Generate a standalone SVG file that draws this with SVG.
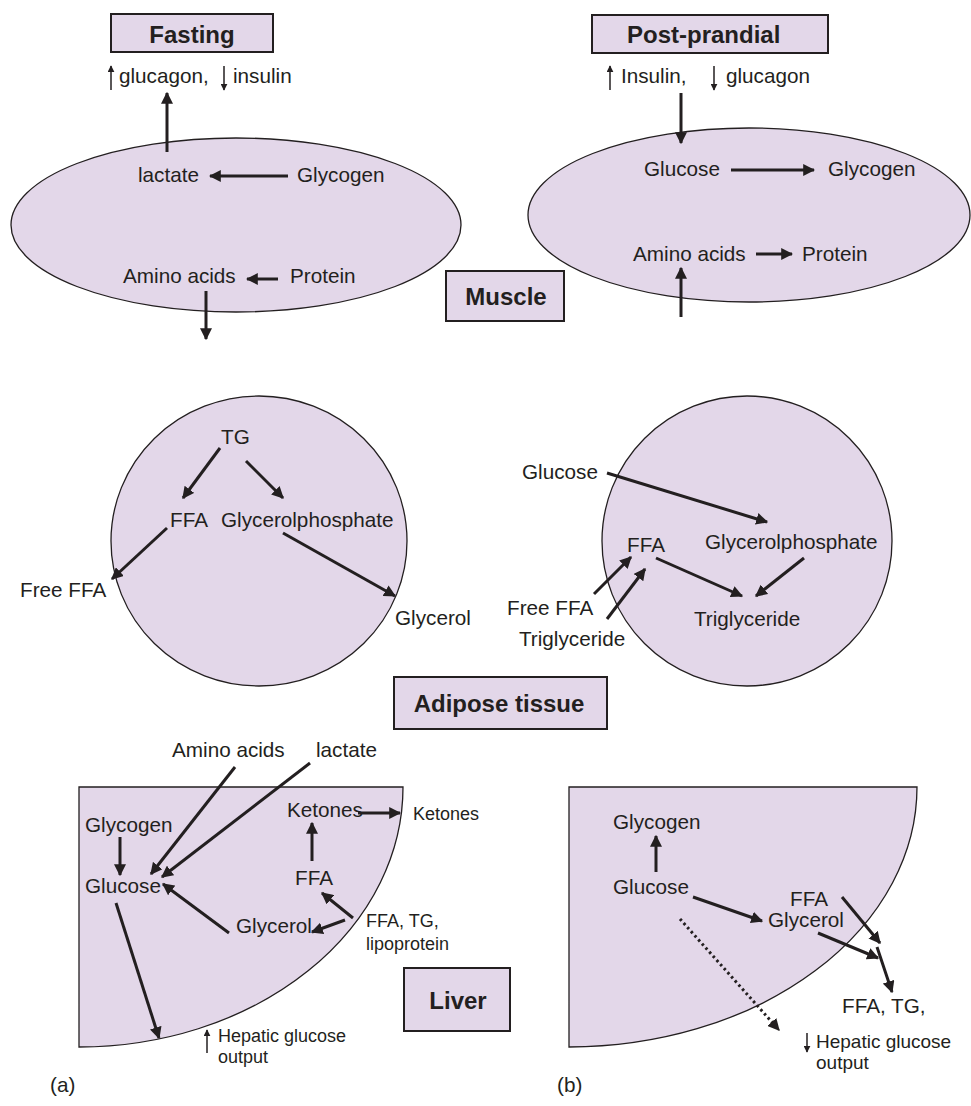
<svg xmlns="http://www.w3.org/2000/svg" width="971" height="1106" viewBox="0 0 971 1106">
<style>
.shape{fill:#e3d7e9;stroke:#231f20;stroke-width:1.3}
.box{fill:#e3d7e9;stroke:#231f20;stroke-width:2}
text{font-family:"Liberation Sans",Arial,sans-serif;fill:#231f20}
.t{font-size:20.7px}
.s{font-size:18px}
.s2{font-size:19px}
.b{font-size:24px;font-weight:bold}
.a{stroke:#231f20;stroke-width:3;fill:none;marker-end:url(#ah)}
.m{stroke:#231f20;stroke-width:1.5;fill:none;marker-end:url(#sh)}
.d{stroke:#231f20;stroke-width:3;fill:none;stroke-dasharray:2.5 3;marker-end:url(#ah)}
</style>
<defs>
<marker id="ah" viewBox="0 0 10 10" refX="9" refY="5" markerWidth="12" markerHeight="12" markerUnits="userSpaceOnUse" orient="auto"><path d="M0,0 L10,5 L0,10 z" fill="#231f20"/></marker>
<marker id="sh" viewBox="0 0 10 10" refX="9" refY="5" markerWidth="7" markerHeight="7" markerUnits="userSpaceOnUse" orient="auto"><path d="M0,0 L10,5 L0,10 z" fill="#231f20"/></marker>
</defs>

<g id="fasting-label">
<rect class="box" x="111" y="14" width="162" height="38"/>
<text class="b" x="192" y="43" text-anchor="middle">Fasting</text>
</g>
<g id="postprandial-label">
<rect class="box" x="592" y="15" width="236" height="38"/>
<text class="b" x="627" y="43">Post-prandial</text>
</g>
<g id="muscle-label">
<rect class="box" x="446" y="271" width="118" height="50"/>
<text class="b" x="506" y="305" text-anchor="middle">Muscle</text>
</g>
<g id="adipose-label">
<rect class="box" x="394" y="677" width="213" height="52"/>
<text class="b" x="499" y="712" text-anchor="middle">Adipose tissue</text>
</g>
<g id="liver-label">
<rect class="box" x="404" y="968" width="106" height="63"/>
<text class="b" x="458" y="1009" text-anchor="middle">Liver</text>
</g>

<g id="muscle-fasting">
<ellipse class="shape" cx="236" cy="225" rx="225" ry="87"/>
<text class="t" x="138" y="182">lactate</text>
<text class="t" x="297" y="182">Glycogen</text>
<text class="t" x="123" y="283">Amino acids</text>
<text class="t" x="290" y="283">Protein</text>
</g>
<g id="hormones-fasting">
<text class="t" x="119" y="83">glucagon,</text>
<text class="t" x="233" y="83">insulin</text>
</g>

<g id="muscle-fed">
<ellipse class="shape" cx="749" cy="215" rx="221" ry="87"/>
<text class="t" x="644" y="176">Glucose</text>
<text class="t" x="828" y="176">Glycogen</text>
<text class="t" x="633" y="261">Amino acids</text>
<text class="t" x="802" y="261">Protein</text>
</g>
<g id="hormones-fed">
<text class="t" x="621" y="83">Insulin,</text>
<text class="t" x="726" y="83">glucagon</text>
</g>

<g id="adipose-fasting">
<ellipse class="shape" cx="259" cy="541" rx="148" ry="145"/>
<text class="t" x="221" y="444">TG</text>
<text class="t" x="170" y="527">FFA</text>
<text class="t" x="221" y="527">Glycerolphosphate</text>
<text class="t" x="20" y="597">Free FFA</text>
<text class="t" x="395" y="625">Glycerol</text>
</g>

<g id="adipose-fed">
<ellipse class="shape" cx="747" cy="541" rx="145" ry="145"/>
<text class="t" x="522" y="479">Glucose</text>
<text class="t" x="627" y="552">FFA</text>
<text class="t" x="705" y="549">Glycerolphosphate</text>
<text class="t" x="694" y="626">Triglyceride</text>
<text class="t" x="507" y="615">Free FFA</text>
<text class="t" x="519" y="646">Triglyceride</text>
</g>

<g id="liver-fasting">
<path class="shape" d="M79,787 H403 A324,260 0 0 1 79,1047 Z"/>
<text class="t" x="172" y="757">Amino acids</text>
<text class="t" x="316" y="757">lactate</text>
<text class="t" x="85" y="832">Glycogen</text>
<text class="t" x="85" y="893">Glucose</text>
<text class="t" x="287" y="817">Ketones</text>
<text class="s" x="413" y="820">Ketones</text>
<text class="t" x="295" y="885">FFA</text>
<text class="t" x="236" y="933">Glycerol</text>
<text class="s" x="366" y="927">FFA, TG,</text>
<text class="s" x="366" y="950">lipoprotein</text>
<text class="s" x="218" y="1042">Hepatic glucose</text>
<text class="s" x="218" y="1063">output</text>
<text class="t" x="50" y="1092">(a)</text>
</g>

<g id="liver-fed">
<path class="shape" d="M569,787 H917 A348,260 0 0 1 569,1047 Z"/>
<text class="t" x="613" y="829">Glycogen</text>
<text class="t" x="613" y="894">Glucose</text>
<text class="t" x="790" y="906">FFA</text>
<text class="t" x="768" y="927">Glycerol</text>
<text class="t" x="842" y="1013">FFA, TG,</text>
<text class="s2" x="816" y="1048">Hepatic glucose</text>
<text class="s2" x="816" y="1069">output</text>
<text class="t" x="557" y="1092">(b)</text>
</g>

<g id="connectors">
<line class="m" x1="111" y1="90" x2="111" y2="66"/>
<line class="m" x1="224" y1="66" x2="224" y2="90"/>
<line class="m" x1="610" y1="90" x2="610" y2="66"/>
<line class="m" x1="714" y1="66" x2="714" y2="90"/>
<line class="a" x1="167" y1="152" x2="167" y2="93"/>
<line class="a" x1="288" y1="176" x2="210" y2="176"/>
<line class="a" x1="278" y1="279" x2="247" y2="279"/>
<line class="a" x1="206" y1="291" x2="206" y2="339"/>
<line class="a" x1="681" y1="93" x2="681" y2="143"/>
<line class="a" x1="731" y1="170" x2="814" y2="170"/>
<line class="a" x1="756" y1="254" x2="792" y2="254"/>
<line class="a" x1="681" y1="317" x2="681" y2="268"/>
<line class="a" x1="220" y1="448" x2="183" y2="498"/>
<line class="a" x1="246" y1="461" x2="283" y2="498"/>
<line class="a" x1="167" y1="528" x2="112" y2="579"/>
<line class="a" x1="283" y1="533" x2="395" y2="596"/>
<line class="a" x1="607" y1="473" x2="767" y2="522"/>
<line class="a" x1="656" y1="558" x2="742" y2="596"/>
<line class="a" x1="804" y1="558" x2="756" y2="596"/>
<line class="a" x1="594" y1="594" x2="631" y2="557"/>
<line class="a" x1="607" y1="619" x2="645" y2="569"/>
<line class="a" x1="235" y1="767" x2="151" y2="874"/>
<line class="a" x1="310" y1="763" x2="162" y2="877"/>
<line class="a" x1="120" y1="837" x2="120" y2="875"/>
<line class="a" x1="116" y1="903" x2="159" y2="1038"/>
<line class="a" x1="358" y1="813" x2="400" y2="813"/>
<line class="a" x1="312" y1="861" x2="312" y2="823"/>
<line class="a" x1="353" y1="918" x2="322" y2="893"/>
<line class="a" x1="345" y1="920" x2="312" y2="932"/>
<line class="a" x1="229" y1="933" x2="163" y2="884"/>
<line class="m" x1="207" y1="1053" x2="207" y2="1030"/>
<line class="a" x1="656" y1="872" x2="656" y2="836"/>
<line class="a" x1="693" y1="897" x2="762" y2="921"/>
<line class="a" x1="842" y1="897" x2="880" y2="943"/>
<line class="a" x1="818" y1="933" x2="878" y2="958"/>
<line class="a" x1="877" y1="947" x2="892" y2="992"/>
<line class="d" x1="680" y1="919" x2="779" y2="1030"/>
<line class="m" x1="807" y1="1033" x2="807" y2="1052"/>
</g>
</svg>
